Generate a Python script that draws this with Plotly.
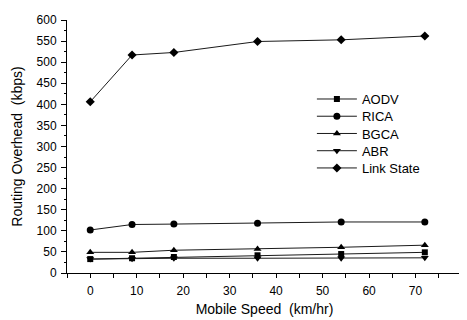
import plotly.graph_objects as go

speed = [0, 9, 18, 36, 54, 72]
aodv = [33, 35, 38, 42, 45, 49]
rica = [102, 115, 116, 118, 121, 121]
bgca = [49, 49, 54, 57, 61, 66]
abr = [33, 34, 35, 35, 35, 36]
link_state = [406, 517, 523, 549, 553, 562]

names = ["AODV", "RICA", "BGCA", "ABR", "Link State"]
values = [aodv, rica, bgca, abr, link_state]
symbols = ["square", "circle", "triangle-up", "triangle-down", "diamond"]
sizes = [6, 7, 7, 7, 7]
legend_rows_px = [95.7, 113.3, 130.9, 148.5, 166.1]

# page body has an 8px default margin; figure is sized to fill the rest
PLOT_TOP, PLOT_BOTTOM = 15, 273.3
plot_h = PLOT_BOTTOM - PLOT_TOP

fig = go.Figure()
legend_layout = {}
for i, (name, vals, sym, sz) in enumerate(zip(names, values, symbols, sizes)):
    lg = "legend" if i == 0 else f"legend{i+1}"
    fig.add_trace(go.Scatter(
        x=speed, y=vals, name=name, mode="lines+markers",
        line=dict(color="#1a1a1a", width=1),
        marker=dict(symbol=sym, size=sz, color="black"),
        legend=lg,
    ))
    legend_layout[lg] = dict(
        x=0.62, y=(PLOT_BOTTOM - legend_rows_px[i]) / plot_h,
        xanchor="left", yanchor="middle",
        bgcolor="rgba(0,0,0,0)", borderwidth=0,
        font=dict(size=13), itemwidth=40,
    )

font = dict(family="Liberation Sans, Arial, sans-serif", size=12, color="black")
fig.update_layout(
    width=459, height=312,
    margin=dict(l=59, r=5, t=7, b=47),
    paper_bgcolor="white", plot_bgcolor="white",
    font=font,
    showlegend=True,
    xaxis=dict(
        range=[-5, 80], tickvals=[0, 10, 20, 30, 40, 50, 60, 70, 80],
        showline=True, linecolor="black", linewidth=1,
        ticks="outside", ticklen=4, tickcolor="black",
        ticklabelstandoff=3,
        minor=dict(ticks="outside", ticklen=4, tick0=-5, dtick=10, tickcolor="black"),
        showgrid=False, zeroline=False,
        title=dict(text="Mobile Speed\u00a0 (km/hr)", standoff=6, font=dict(size=14)),
    ),
    yaxis=dict(
        range=[0, 600], dtick=50,
        showline=True, linecolor="black", linewidth=1,
        ticks="outside", ticklen=5, tickcolor="black",
        ticklabelstandoff=2,
        minor=dict(ticks="outside", ticklen=2, dtick=25, tickcolor="black"),
        showgrid=False, zeroline=False,
        title=dict(text="Routing Overhead\u00a0 (kbps)", standoff=10, font=dict(size=14)),
    ),
    **legend_layout,
)

fig.write_html("out.html")
